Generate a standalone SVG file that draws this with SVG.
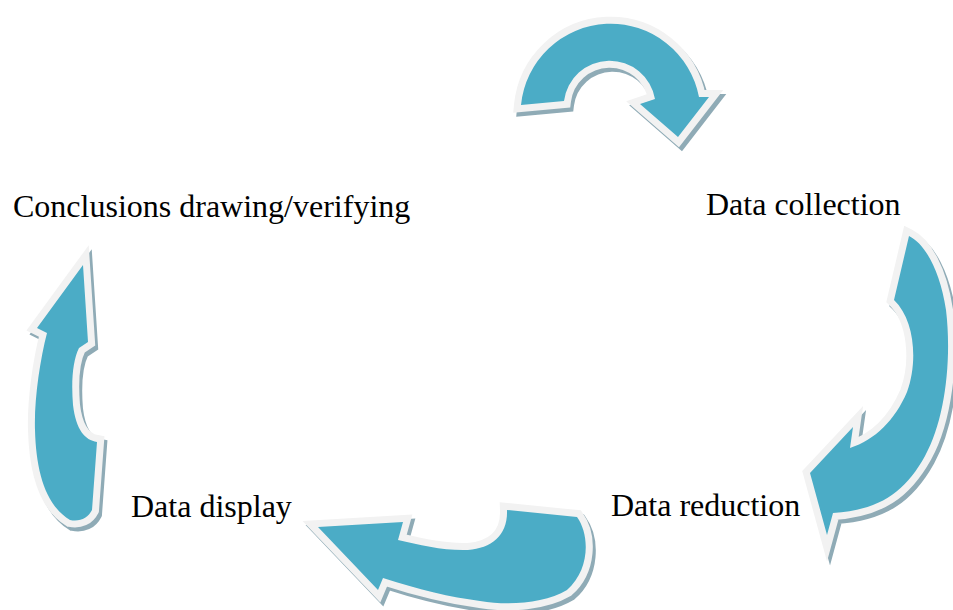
<svg xmlns="http://www.w3.org/2000/svg" xmlns:xlink="http://www.w3.org/1999/xlink" width="953" height="610" viewBox="0 0 953 610">
<style>
.lbl{font-family:"Liberation Serif","Times New Roman",serif;font-size:32px;fill:#000}
.shadow{fill:#8fabb6;stroke:#8fabb6;stroke-width:14;stroke-linejoin:miter;stroke-miterlimit:6}
.rim{fill:#f2f2f2;stroke:#f2f2f2;stroke-width:14;stroke-linejoin:miter;stroke-miterlimit:6}
.body{fill:#4bacc6}
</style>
<defs>
<path id="a1" d="M521,105 A90,90 0 0 1 699,97 L709,97 L678,137 L640,104 L655,99 A46,46 0 0 0 564,101 Z"/>
<path id="a2" d="M909,236 C925,244 940,270 946,310 C952,360 945,420 925,456 C905,492 880,510 833,513 L827,535 L810,473 L853,427 L850,448 C875,440 895,420 907,392 C918,362 915,320 894,300 Z"/>
<path id="a3" d="M507,510 L577,517 C590,535 590,570 567,590 C545,603 510,606 480,601 C450,597 420,590 383,578 L378,590 L318,527 L403,522 L398,540 C420,545 445,551 468,550 C492,548 508,535 507,510 Z"/>
<path id="a4" d="M83,265 L37,328 L47,333 C40,360 34,400 35,430 C36,470 45,505 70,520 C80,522 88,518 92,510 L97,442 C85,440 76,430 73,405 C71,380 73,360 79,348 L88,342 Z"/>
</defs>
<g id="connectors">
<g id="arrow-top"><use xlink:href="#a1" class="shadow" transform="translate(3,4)"/><use xlink:href="#a1" class="rim"/><use xlink:href="#a1" class="body"/></g>
<g id="arrow-right"><use xlink:href="#a2" class="shadow" transform="translate(3,4)"/><use xlink:href="#a2" class="rim"/><use xlink:href="#a2" class="body"/></g>
<g id="arrow-bottom"><use xlink:href="#a3" class="shadow" transform="translate(3,4)"/><use xlink:href="#a3" class="rim"/><use xlink:href="#a3" class="body"/></g>
<g id="arrow-left"><use xlink:href="#a4" class="shadow" transform="translate(3,4)"/><use xlink:href="#a4" class="rim"/><use xlink:href="#a4" class="body"/></g>
</g>
<g id="node-conclusions"><text class="lbl" x="13" y="217">Conclusions drawing/verifying</text></g>
<g id="node-collection"><text class="lbl" x="706" y="215">Data collection</text></g>
<g id="node-display"><text class="lbl" x="131" y="517">Data display</text></g>
<g id="node-reduction"><text class="lbl" x="611" y="516">Data reduction</text></g>
</svg>
